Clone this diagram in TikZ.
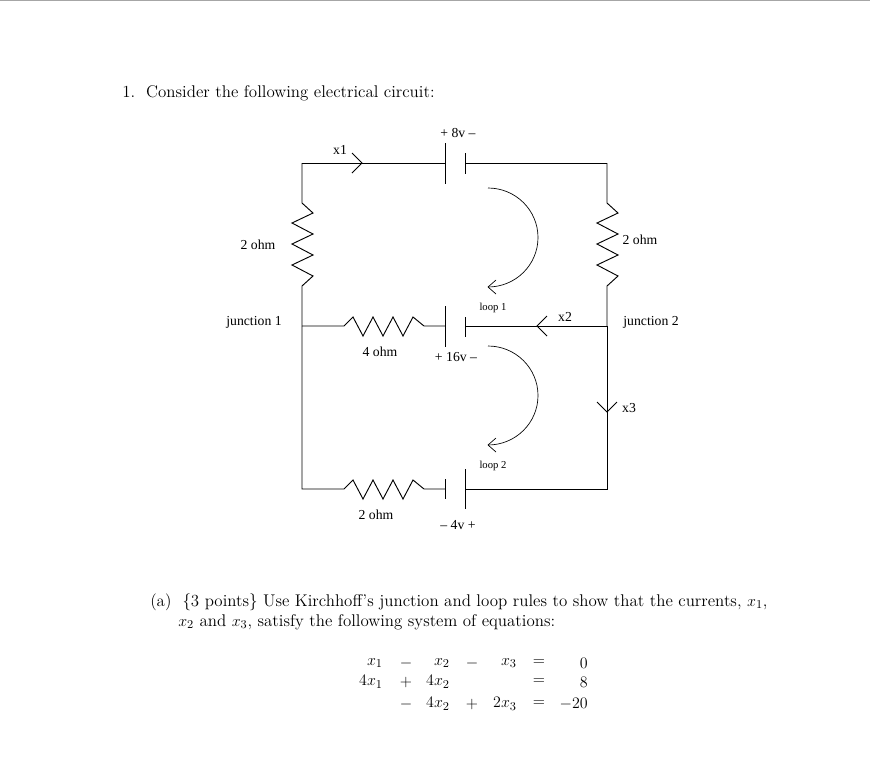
\documentclass[tikz,border=0pt]{standalone}
\usepackage{fontspec}
\newfontfamily\tms{Liberation Serif}
\begin{document}
\begin{tikzpicture}[x=0.75pt,y=-0.75pt,
  w/.style={line width=0.7pt},
  lab/.style={font=\tms\fontsize{10.3}{12}\selectfont, inner sep=0pt},
  small/.style={font=\tms\fontsize{8}{9}\selectfont, inner sep=0pt},
  body/.style={font=\fontsize{12.7}{15}\selectfont, inner sep=0pt, anchor=base west},
  eq/.style={font=\fontsize{12.7}{15}\selectfont, inner sep=0pt}]
\useasboundingbox (0,0) rectangle (870,779);
\draw[gray!70,line width=1pt] (0,0.5) -- (870,0.5);
% text
\node[body] (t1) at (122,97) {1.\ \ Consider the following electrical circuit:};
\node[body] (ta) at (150,606) {(a)\ \ \{3 points\} Use Kirchhoff's junction and loop rules to show that the currents, $x_1$,};
\node[body] (tb) at (178,626) {$x_2$ and $x_3$, satisfy the following system of equations:};
% equations
\node[eq,anchor=east] (e11) at (383,663) {$x_1$};
\node[eq] (e12) at (406,663) {$-$};
\node[eq,anchor=east] (e13) at (450,663) {$x_2$};
\node[eq] (e14) at (472,663) {$-$};
\node[eq,anchor=east] (e15) at (517,663) {$x_3$};
\node[eq] (e16) at (539,663) {$=$};
\node[eq,anchor=east] (e17) at (588,663) {$0$};
\node[eq,anchor=east] (e21) at (383,682) {$4x_1$};
\node[eq] (e22) at (406,682) {$+$};
\node[eq,anchor=east] (e23) at (450,682) {$4x_2$};
\node[eq] (e26) at (539,682) {$=$};
\node[eq,anchor=east] (e27) at (588,682) {$8$};
\node[eq] (e32) at (406,704) {$-$};
\node[eq,anchor=east] (e33) at (450,704) {$4x_2$};
\node[eq] (e34) at (472,704) {$+$};
\node[eq,anchor=east] (e35) at (517,704) {$2x_3$};
\node[eq] (e36) at (539,704) {$=$};
\node[eq,anchor=east] (e37) at (588,704) {$-20$};
% corners
\coordinate (TL) at (302,163); \coordinate (TR) at (607,163);
\coordinate (J1) at (302,326); \coordinate (J2) at (607,326);
\coordinate (BL) at (302,489); \coordinate (BR) at (607,489);
% top wire and 8v battery
\draw[w] (TL) -- (445,163); \draw[w] (465,163) -- (TR);
\draw[w] (445,143) -- (445,184); \draw[w] (465,153) -- (465,174);
\draw[w] (352,153) -- (362,163) -- (352,173);
% side branches
\draw[w] (TL) -- (302,203) -- (313,213) -- (292,223) -- (313,234) -- (292,244) -- (313,255) -- (292,265) -- (313,276) -- (302,286) -- (J1);
\draw[w] (TR) -- (607,203) -- (618,213) -- (597,223) -- (618,234) -- (597,244) -- (618,255) -- (597,265) -- (618,276) -- (607,286) -- (J2);
% middle wire
\draw[w] (J1) -- (344,326) -- (353,317) -- (363,336) -- (373,317) -- (383,336) -- (393,317) -- (403,336) -- (413,317) -- (424,326) -- (445,326);
\draw[w] (445,306) -- (445,347); \draw[w] (465,317) -- (465,337);
\draw[w] (465,326) -- (J2);
\draw[w] (547,316) -- (537,326) -- (547,336);
% lower branch
\draw[w] (J1) -- (BL) -- (344,489) -- (353,480) -- (363,499) -- (373,480) -- (383,499) -- (393,480) -- (403,499) -- (413,480) -- (424,489) -- (445,489);
\draw[w] (445,479) -- (445,499); \draw[w] (465,469) -- (465,509);
\draw[w] (465,489) -- (BR) -- (J2);
\draw[w] (597,402) -- (607,412) -- (617,402);
% loops
\draw[line width=0.5pt] (488,188) arc (-90:90:50 and 49.5);
\draw[line width=0.5pt] (496,280) -- (488,287) -- (496,294);
\draw[line width=0.5pt] (488,346) arc (-90:90:50 and 49.5);
\draw[line width=0.5pt] (496,438) -- (488,445) -- (496,452);
% labels
\node[lab] (l8) at (458,133) {+ 8v –};
\node[lab] (lx1) at (340,150) {x1};
\node[lab] (lr1) at (258,245) {2 ohm};
\node[lab] (lr2) at (640,240) {2 ohm};
\node[lab] (lj1) at (254,322) {junction 1};
\node[lab] (lj2) at (651,322) {junction 2};
\node[lab] (lr4) at (380,352) {4 ohm};
\node[lab] (l16) at (456,357) {+ 16v –};
\node[lab] (lx2) at (565,317) {x2};
\node[small] (lp1) at (493,308) {loop 1};
\node[lab] (lx3) at (629,408) {x3};
\node[small] (lp2) at (493,466) {loop 2};
\node[lab] (lr5) at (376,515) {2 ohm};
\node[lab] (l4) at (458,525) {– 4v +};
\end{tikzpicture}
\end{document}
